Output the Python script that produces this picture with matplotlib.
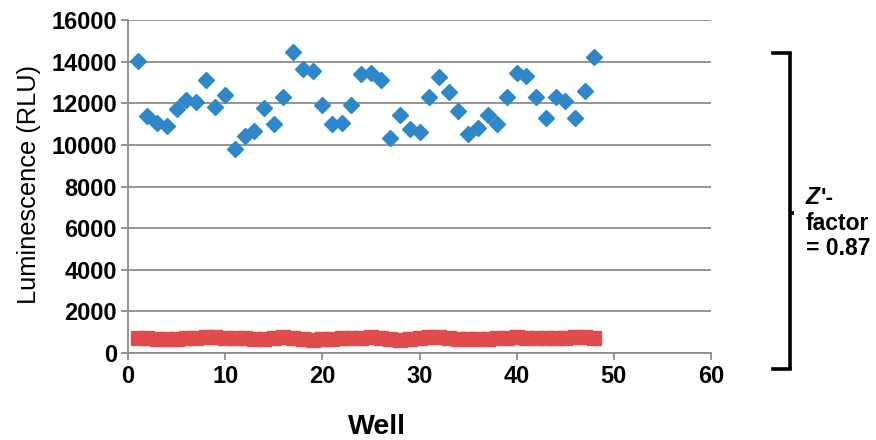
import matplotlib
matplotlib.use("Agg")
import matplotlib.pyplot as plt

wells = list(range(1, 49))
positive = [14050, 11400, 11050, 10900, 11700, 12150, 12050, 13100, 11800, 12400,
            9780, 10450, 10680, 11780, 11000, 12300, 14450, 13650, 13550, 11900,
            11000, 11050, 11900, 13420, 13440, 13130, 10330, 11420, 10750, 10600,
            12300, 13280, 12530, 11650, 10520, 10800, 11420, 11000, 12300, 13440,
            13300, 12300, 11300, 12320, 12130, 11310, 12610, 14240]
negative = [705, 705, 656, 689, 672, 705, 738, 771, 771, 722,
            705, 705, 656, 672, 722, 771, 722, 672, 623, 656,
            689, 705, 705, 722, 771, 705, 656, 607, 672, 705,
            754, 754, 722, 656, 656, 672, 689, 722, 738, 754,
            738, 705, 705, 705, 738, 754, 754, 738]
x_ticks = [0, 10, 20, 30, 40, 50, 60]
y_ticks = [0, 2000, 4000, 6000, 8000, 10000, 12000, 14000, 16000]

plt.rcParams['font.family'] = ['Liberation Sans', 'DejaVu Sans']

W, H = 876, 440
fig = plt.figure(figsize=(W / 100, H / 100), dpi=100)
ax = fig.add_axes([128 / W, 1 - 353 / H, (711 - 128) / W, (353 - 20) / H])

grid_c = '#8c8c8c'
ax.set_xlim(0, 60)
ax.set_ylim(0, 16000)
ax.set_yticks(y_ticks)
ax.set_xticks(x_ticks)
ax.yaxis.grid(True, color=grid_c, linewidth=1.3)
ax.set_axisbelow(True)
for s in ['top', 'right']:
    ax.spines[s].set_visible(False)
for s in ['left', 'bottom']:
    ax.spines[s].set_color(grid_c)
    ax.spines[s].set_linewidth(1.3)
ax.tick_params(axis='both', colors=grid_c, length=5, width=1.3, labelcolor='black',
               labelsize=17)
ax.tick_params(axis='y', pad=3)
for lab in ax.get_xticklabels() + ax.get_yticklabels():
    lab.set_fontweight('bold')

ax.plot(wells, negative, linestyle='none', marker='s', markersize=9.5,
        color='#E04C4C', clip_on=False, zorder=3)
ax.plot(wells, positive, linestyle='none', marker='D', markersize=7.8,
        color='#2D87C8', clip_on=False, zorder=4)

ax.set_ylabel('Luminescence (RLU)', fontsize=18.3)
ax.yaxis.set_label_coords((41 - 128) / 583, (353 - 184) / 333)
fig.text(377 / W, 1 - 427 / H, 'Well', fontsize=20.5, fontweight='bold',
         ha='center', va='center')

# bracket
bx = 790 / W
top = 1 - 53 / H
bot = 1 - 369 / H
mid = 1 - 213 / H
lw = 2.6
fig.add_artist(plt.Line2D([bx, bx], [top, bot], color='black', linewidth=lw,
                          solid_capstyle='butt'))
fig.add_artist(plt.Line2D([773 / W, bx], [top, top], color='black', linewidth=lw,
                          solid_capstyle='projecting'))
fig.add_artist(plt.Line2D([773 / W, bx], [bot, bot], color='black', linewidth=lw,
                          solid_capstyle='projecting'))
fig.add_artist(plt.Line2D([bx, 794 / W], [mid, mid], color='black', linewidth=lw,
                          solid_capstyle='butt'))

fs = 16.5
tz = fig.text(806 / W, 1 - 198 / H, 'Z', fontsize=fs, fontweight='bold',
              fontstyle='italic', ha='left', va='center')
fig.canvas.draw()
ax.annotate("'-", xy=(1, 0.5), xycoords=tz, xytext=(0.5, 0), textcoords='offset points',
            fontsize=fs, fontweight='bold', ha='left', va='center')
fig.text(806 / W, 1 - 223 / H, 'factor', fontsize=fs, fontweight='bold',
         ha='left', va='center')
fig.text(806 / W, 1 - 248 / H, '= 0.87', fontsize=fs, fontweight='bold',
         ha='left', va='center')

fig.savefig('out.png', dpi=100)
